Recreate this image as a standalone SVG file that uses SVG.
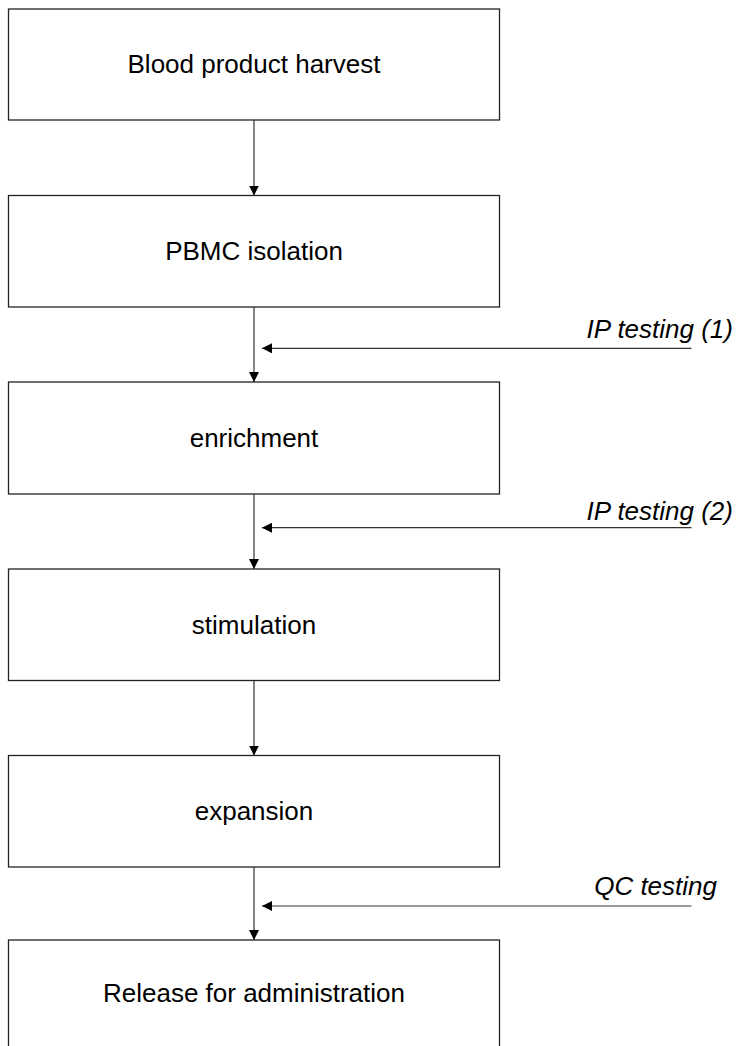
<svg xmlns="http://www.w3.org/2000/svg" width="737" height="1046" viewBox="0 0 737 1046">
  <defs>
    <style>
      .box { fill: #ffffff; stroke: #222222; stroke-width: 1.3; }
      .lbl { font-family: "Liberation Sans", Arial, sans-serif; font-size: 26px; fill: #000000; text-anchor: middle; }
      .side { font-family: "Liberation Sans", Arial, sans-serif; font-size: 26px; font-style: italic; fill: #000000; text-anchor: end; }
      .wire { stroke: #333333; stroke-width: 1.2; fill: none; }
    </style>
    <marker id="tip" viewBox="0 0 10 10" refX="10" refY="5" markerWidth="10" markerHeight="10" markerUnits="userSpaceOnUse" orient="auto">
      <path d="M0,0 L10,5 L0,10 Z" fill="#000000"/>
    </marker>
  </defs>

  <rect width="737" height="1046" fill="#ffffff"/>

  <g id="harvest">
    <rect class="box" x="8.5" y="9" width="491" height="111"/>
    <text class="lbl" x="254" y="73">Blood product harvest</text>
  </g>
  <g id="pbmc">
    <rect class="box" x="8.5" y="195.5" width="491" height="111.5"/>
    <text class="lbl" x="254" y="260">PBMC isolation</text>
  </g>
  <g id="enrichment">
    <rect class="box" x="8.5" y="382" width="491" height="112"/>
    <text class="lbl" x="254" y="447">enrichment</text>
  </g>
  <g id="stimulation">
    <rect class="box" x="8.5" y="569" width="491" height="111.5"/>
    <text class="lbl" x="254" y="634">stimulation</text>
  </g>
  <g id="expansion">
    <rect class="box" x="8.5" y="755.5" width="491" height="111.5"/>
    <text class="lbl" x="254" y="820">expansion</text>
  </g>
  <g id="release">
    <rect class="box" x="8.5" y="940" width="491" height="120"/>
    <text class="lbl" x="254" y="1002">Release for administration</text>
  </g>

  <g id="connectors">
    <line class="wire" x1="254" y1="120" x2="254" y2="195.5" marker-end="url(#tip)"/>
    <line class="wire" x1="254" y1="307" x2="254" y2="382" marker-end="url(#tip)"/>
    <line class="wire" x1="254" y1="494" x2="254" y2="569" marker-end="url(#tip)"/>
    <line class="wire" x1="254" y1="680.5" x2="254" y2="755.5" marker-end="url(#tip)"/>
    <line class="wire" x1="254" y1="867" x2="254" y2="940" marker-end="url(#tip)"/>

    <line class="wire" x1="691.5" y1="348.3" x2="262" y2="348.3" marker-end="url(#tip)"/>
    <line class="wire" x1="691.5" y1="527.7" x2="262" y2="527.7" marker-end="url(#tip)"/>
    <line class="wire" x1="691.5" y1="906" x2="262" y2="906" marker-end="url(#tip)"/>
  </g>

  <g id="test-labels">
    <text class="side" x="733" y="338">IP testing (1)</text>
    <text class="side" x="733" y="520">IP testing (2)</text>
    <text class="side" x="717" y="895">QC testing</text>
  </g>
</svg>
